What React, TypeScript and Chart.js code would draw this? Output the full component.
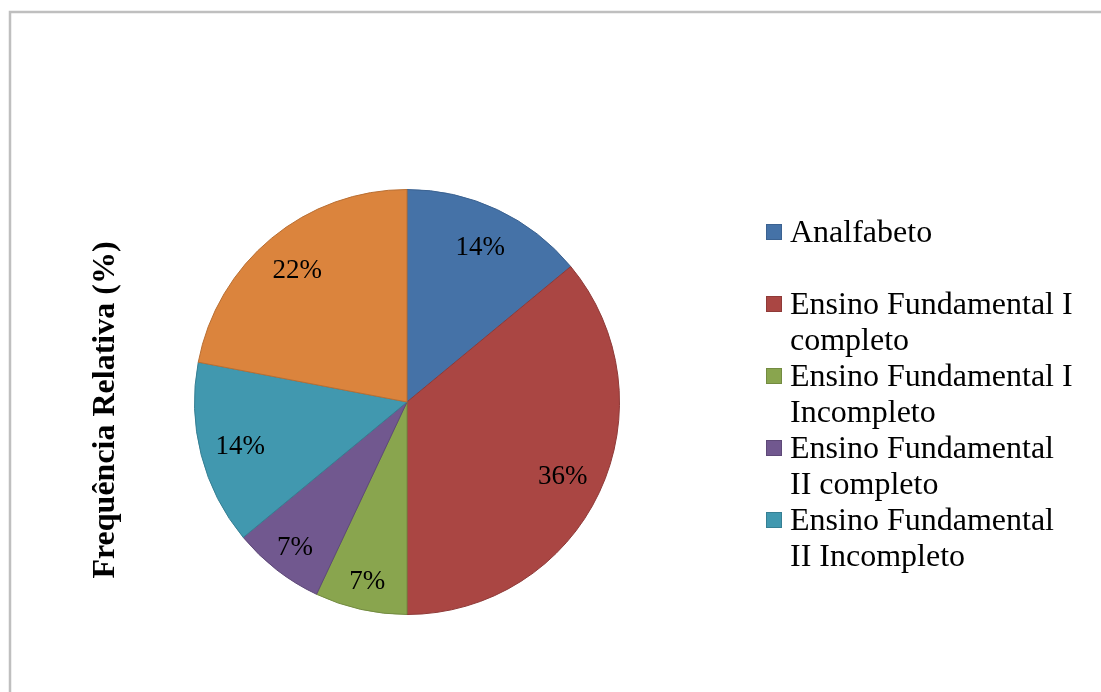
import React, { useEffect, useRef } from "react";
import { Chart, registerables } from "chart.js";

Chart.register(...registerables);

const categories = [
  "Analfabeto",
  "Ensino Fundamental I completo",
  "Ensino Fundamental I Incompleto",
  "Ensino Fundamental II completo",
  "Ensino Fundamental II Incompleto",
  "Ensino Médio",
];
const percentages = [14, 36, 7, 7, 14, 22];
const fillColors = ["#4572A7", "#AA4643", "#89A54E", "#71588F", "#4198AF", "#DB843D"];
const edgeColors = ["#3B6291", "#8F3A38", "#738B41", "#5E4978", "#367F93", "#B96F33"];
// legend text split into the lines it is drawn on (the last category is not listed)
const legendLines = [
  ["Analfabeto", ""],
  ["Ensino Fundamental I", "completo"],
  ["Ensino Fundamental I", "Incompleto"],
  ["Ensino Fundamental", "II completo"],
  ["Ensino Fundamental", "II Incompleto"],
];
const axisTitle = "Frequência Relativa (%)";

const SERIF = "'Liberation Serif', 'Times New Roman', serif";

const decorPlugin = {
  id: "decor",
  beforeDraw(chart: any) {
    const ctx = chart.ctx;
    ctx.save();
    ctx.fillStyle = "#ffffff";
    ctx.fillRect(0, 0, chart.width, chart.height);
    // outer frame: top and left edges
    ctx.strokeStyle = "#bfbfbf";
    ctx.lineWidth = 2.5;
    ctx.beginPath();
    ctx.moveTo(10, chart.height);
    ctx.lineTo(10, 12);
    ctx.lineTo(chart.width, 12);
    ctx.stroke();
    ctx.restore();
  },
  afterDraw(chart: any) {
    const ctx = chart.ctx;
    const meta = chart.getDatasetMeta(0);
    ctx.save();
    // value labels inside the slices
    ctx.fillStyle = "#000000";
    ctx.font = `27px ${SERIF}`;
    ctx.textAlign = "center";
    ctx.textBaseline = "middle";
    meta.data.forEach((arc: any, i: number) => {
      const { x, y, startAngle, endAngle, outerRadius } = arc.getProps(
        ["x", "y", "startAngle", "endAngle", "outerRadius"],
        true
      );
      const mid = (startAngle + endAngle) / 2;
      const f = percentages[i] < 10 ? 0.86 : 0.81;
      const r = outerRadius * f;
      ctx.fillText(`${percentages[i]}%`, x + Math.cos(mid) * r, y + Math.sin(mid) * r + 2);
    });

    // vertical axis title
    ctx.save();
    ctx.translate(106, 410);
    ctx.rotate(-Math.PI / 2);
    ctx.font = `bold 32px ${SERIF}`;
    ctx.fillText(axisTitle, 0, 0);
    ctx.restore();

    // legend
    const boxX = 766;
    const textX = 790;
    const lineH = 36;
    let lineY = 234;
    ctx.textAlign = "left";
    ctx.font = `32px ${SERIF}`;
    legendLines.forEach((lines, i) => {
      ctx.fillStyle = fillColors[i];
      ctx.fillRect(boxX, lineY - 10, 16, 16);
      ctx.strokeStyle = edgeColors[i];
      ctx.lineWidth = 1;
      ctx.strokeRect(boxX + 0.5, lineY - 9.5, 15, 15);
      ctx.fillStyle = "#000000";
      lines.forEach((t, k) => {
        if (t) ctx.fillText(t, textX, lineY + k * lineH);
      });
      lineY += lines.length * lineH;
    });
    ctx.restore();
  },
};

export default function App() {
  const ref = useRef<HTMLCanvasElement | null>(null);

  useEffect(() => {
    document.body.style.margin = "0";
    const canvas = ref.current;
    if (!canvas) return;
    const chart = new Chart(canvas, {
      type: "pie",
      data: {
        labels: categories,
        datasets: [
          {
            data: percentages,
            backgroundColor: fillColors,
            borderColor: edgeColors,
            borderWidth: 1,
          },
        ],
      },
      options: {
        responsive: false,
        animation: false,
        events: [],
        layout: { padding: { left: 194, right: 481, top: 189, bottom: 77 } },
        plugins: {
          legend: { display: false },
          tooltip: { enabled: false },
          title: { display: false },
        },
      },
      plugins: [decorPlugin],
    });
    return () => chart.destroy();
  }, []);

  return (
    <div style={{ width: 1101, height: 692 }}>
      <canvas ref={ref} width={1101} height={692} style={{ display: "block" }} />
    </div>
  );
}
